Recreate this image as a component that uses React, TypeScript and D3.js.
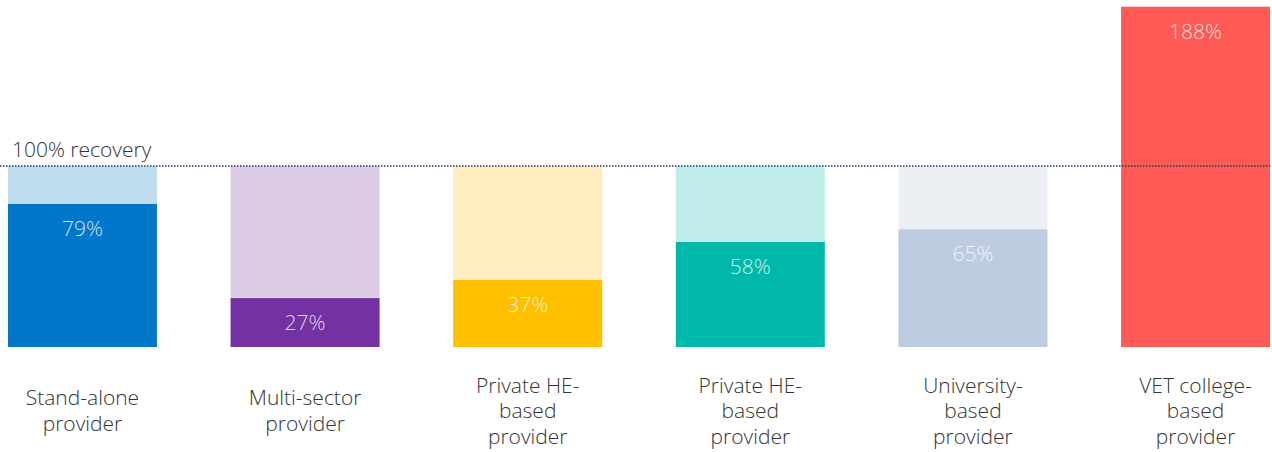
import { scaleBand, scaleLinear } from "d3";

const categories = [
  ["Stand-alone", "provider"],
  ["Multi-sector", "provider"],
  ["Private HE-", "based", "provider"],
  ["Private HE-", "based", "provider"],
  ["University-", "based", "provider"],
  ["VET college-", "based", "provider"],
];
const values = [79, 27, 37, 58, 65, 188];
const darkColors = ["#0077C8", "#7331A1", "#FFC000", "#00B8A9", "#BECCE2", "#FF5A55"];
const lightColors = ["#C0DDF0", "#DCCCE5", "#FFEDC0", "#C0EDE9", "#ECF0F5", "#FFD5D4"];
const target = 100;

const width = 1272;
const height = 452;
const font = "'Open Sans', 'Noto Sans', sans-serif";

export default function App() {
  const x = scaleBand<number>()
    .domain(values.map((_, i) => i))
    .range([8, 1270])
    .paddingInner(0.331)
    .paddingOuter(0);
  const y = scaleLinear([0, 100], [347, 166]);

  return (
    <svg
      width={width}
      height={height}
      style={{ position: "absolute", left: 0, top: 0, fontFamily: font }}
    >
      {values.map((v, i) => {
        const x0 = x(i)!;
        const bw = x.bandwidth();
        return (
          <g key={i}>
            {v < target && (
              <rect x={x0} y={y(target)} width={bw} height={y(0) - y(target)} fill={lightColors[i]} />
            )}
            <rect x={x0} y={y(v)} width={bw} height={y(0) - y(v)} fill={darkColors[i]} />
            <text
              x={x0 + bw / 2}
              y={y(v) + 32}
              textAnchor="middle"
              fontSize={21}
              fontWeight={300}
              fill="#fff"
              fillOpacity={0.8}
            >
              {v}%
            </text>
            <text
              x={x0 + bw / 2}
              textAnchor="middle"
              fontSize={21}
              fontWeight={300}
              fill="#333"
              y={411 - ((categories[i].length - 1) * 25.5) / 2 + 7}
            >
              {categories[i].map((line, j) => (
                <tspan key={j} x={x0 + bw / 2} dy={j === 0 ? 0 : 25.5}>
                  {line}
                </tspan>
              ))}
            </text>
          </g>
        );
      })}
      <line
        x1={0}
        x2={width}
        y1={y(target)}
        y2={y(target)}
        stroke="#1F3864"
        strokeWidth={1.3}
        strokeDasharray="1.5 1.5"
      />
      <text x={12} y={157} fontSize={21} fontWeight={300} fill="#333">
        100% recovery
      </text>
    </svg>
  );
}
